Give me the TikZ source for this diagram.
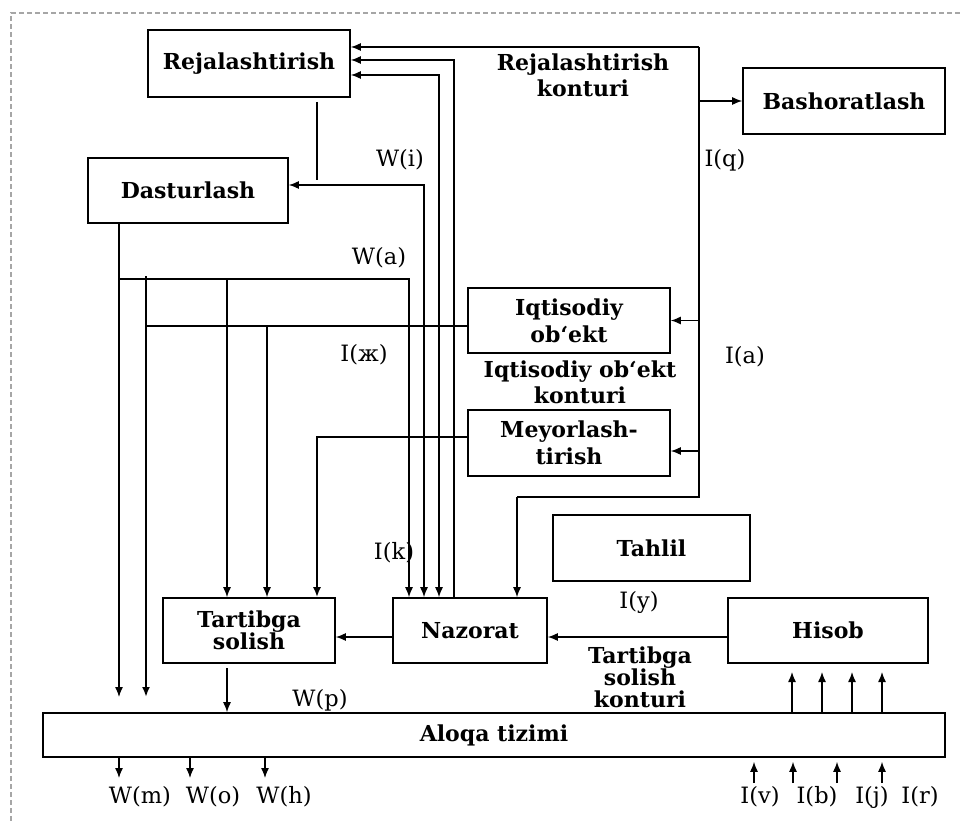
\documentclass[tikz,border=0pt]{standalone}
\usepackage{fontspec}
\setmainfont{DejaVu Serif}
\usetikzlibrary{arrows.meta}

\begin{document}
\begin{tikzpicture}[x=1pt, y=-1pt,
    box/.style={draw, line width=1.6pt, inner sep=0pt, align=center,
        font=\fontsize{22}{27}\selectfont\bfseries},
    lbl/.style={inner sep=1pt, align=center, font=\fontsize{22.5}{25}\selectfont},
    klbl/.style={inner sep=1pt, align=center, font=\fontsize{22}{26}\selectfont\bfseries},
    e/.style={line width=1.3pt},
    ea/.style={e, -{Latex[length=10pt,width=8pt]}},
    eb/.style={e, {Latex[length=10pt,width=8pt]}-{Latex[length=10pt,width=8pt]}},
    he/.style={line width=2.6pt}
]

    \useasboundingbox (0,0) rectangle (963,821);

    % frame
    \draw[gray!70, line width=1.4pt, dash pattern=on 5pt off 3pt] (11,821) -- (11,13) -- (963,13);

    % blocks
    \node[box, minimum width=202pt, minimum height=67pt] (rej) at (249,63.5) {Rejalashtirish};
    \node[box, minimum width=200pt, minimum height=65pt] (dast) at (188,190.5) {Dasturlash};
    \node[box, minimum width=202pt, minimum height=66pt] (bash) at (844,101) {Bashoratlash};
    \node[box, minimum width=202pt, minimum height=65pt] (iqt) at (569,320.5) {Iqtisodiy\\ob`ekt};
    \node[box, minimum width=202pt, minimum height=66pt] (mey) at (569,443) {Meyorlash-\\tirish};
    \node[box, minimum width=197pt, minimum height=66pt] (tahlil) at (651.5,548) {Tahlil};
    \node[box, minimum width=200pt, minimum height=65pt] (hisob) at (828,630.5) {Hisob};
    \node[box, minimum width=154pt, minimum height=65pt] (naz) at (470,630.5) {Nazorat};
    \node[box, minimum width=172pt, minimum height=65pt,
        font=\fontsize{22}{22.5}\selectfont\bfseries] (tart) at (249,630.5) {Tartibga\\solish};
    \node[box, minimum width=902pt, minimum height=44pt] (aloqa) at (494,735) {Aloqa tizimi};

    % right bus (I(q), I(a))
    \coordinate (rt) at (699,47);
    \coordinate (rb) at (699,497);
    \coordinate (lb) at (517,497);
    \coordinate (m1) at (699,451);
    \draw[e] (rt) -- (rb) -- (lb);
    \draw[ea] (rt) -- (rej.east |- rt);
    \draw[ea] (lb) -- (lb |- naz.north);
    \draw[ea] (rt |- bash.west) -- (bash.west);
    \draw[ea] (rt |- iqt.east) -- (iqt.east);
    \draw[ea] (m1) -- (mey.east |- m1);

    % Nazorat up to Rejalashtirish and Dasturlash
    \coordinate (n1) at (454,60);
    \coordinate (n2) at (439,75);
    \coordinate (n3) at (424,185);
    \draw[ea] (naz.north -| n1) -- (n1) -- (rej.east |- n1);
    \draw[eb] (naz.north -| n2) -- (n2) -- (rej.east |- n2);
    \draw[eb] (naz.north -| n3) -- (n3) -- (dast.east |- n3);

    % Rejalashtirish - Dasturlash
    \coordinate (r0) at (317,102);
    \coordinate (r1) at (317,180);
    \draw[he] (r0) -- (r1);

    % Dasturlash outputs
    \coordinate (d1) at (119,279);
    \coordinate (d2) at (119,697);
    \coordinate (k1) at (409,279);
    \coordinate (c1) at (227,279);
    \draw[ea] (dast.south -| d1) -- (d2);
    \draw[ea] (d1) -- (k1) -- (naz.north -| k1);
    \draw[ea] (c1) -- (tart.north -| c1);

    % Iqtisodiy ob`ekt outputs
    \coordinate (t1) at (146,276);
    \coordinate (t2) at (146,697);
    \coordinate (c2) at (146,326);
    \coordinate (c3) at (267,326);
    \draw[he, -{Latex[length=10pt,width=8pt]}] (t1) -- (t2);
    \draw[e] (iqt.west |- c2) -- (c2);
    \draw[ea] (c3) -- (tart.north -| c3);

    % Meyorlashtirish output
    \coordinate (c4) at (317,437);
    \draw[he, -{Latex[length=10pt,width=8pt]}] (mey.west |- c4) -- (c4) -- (tart.north -| c4);

    % Tartibga solish konturi
    \coordinate (h1) at (0,637);
    \coordinate (c5) at (227,668);
    \draw[ea] (naz.west |- h1) -- (tart.east |- h1);
    \draw[ea] (hisob.west |- h1) -- (naz.east |- h1);
    \draw[ea] (c5) -- (aloqa.north -| c5);

    % Aloqa tizimi to Hisob
    \foreach \x in {792,822,852,882} {
        \coordinate (u) at (\x,672);
        \draw[ea] (aloqa.north -| u) -- (u);
    }

    % Aloqa tizimi outputs and inputs
    \foreach \x in {119,190,265} {
        \coordinate (o) at (\x,778);
        \draw[ea] (aloqa.south -| o) -- (o);
    }
    \foreach \x in {754,793,837,882} {
        \coordinate (i) at (\x,783);
        \draw[ea, shorten >=4pt] (i) -- (aloqa.south -| i);
    }

    % labels
    \node[klbl] (lrk) at (583,75) {Rejalashtirish\\konturi};
    \node[klbl] (lik) at (580,382) {Iqtisodiy ob`ekt\\konturi};
    \node[klbl, font=\fontsize{22}{21.5}\selectfont\bfseries] (ltk) at (640,677) {Tartibga\\solish\\konturi};
    \node[lbl] (lq) at (725,160) {I(q)};
    \node[lbl] (lwi) at (400,160) {W(i)};
    \node[lbl] (lwa) at (379,258) {W(a)};
    \node[lbl] (lzh) at (364,355) {I(ж)};
    \node[lbl] (la) at (745,357) {I(a)};
    \node[lbl] (lk) at (394,553) {I(k)};
    \node[lbl] (ly) at (639,602) {I(y)};
    \node[lbl] (lwp) at (320,700) {W(p)};
    \node[lbl] (lwm) at (140,797) {W(m)};
    \node[lbl] (lwo) at (213,797) {W(o)};
    \node[lbl] (lwh) at (284,797) {W(h)};
    \node[lbl] (lv) at (760,797) {I(v)};
    \node[lbl] (lb) at (817,797) {I(b)};
    \node[lbl] (lj) at (872,797) {I(j)};
    \node[lbl] (lr) at (920,797) {I(r)};

\end{tikzpicture}
\end{document}
